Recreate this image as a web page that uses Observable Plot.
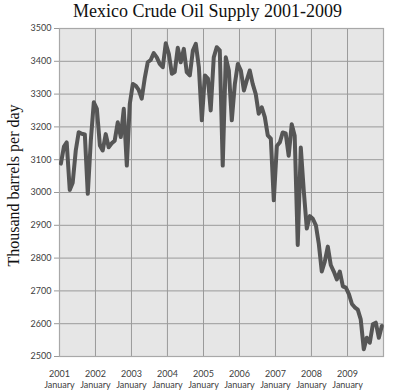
<!DOCTYPE html>
<html>
<head>
<meta charset="utf-8">
<script src="https://cdn.jsdelivr.net/npm/d3@7"></script>
<script src="https://cdn.jsdelivr.net/npm/@observablehq/plot@0.6"></script>
<style>
  html, body { margin: 0; padding: 0; background: #fff; }
  #chart { width: 400px; height: 390px; }
</style>
</head>
<body>
<div id="chart"></div>
<script>
const chartTitle = "Mexico Crude Oil Supply 2001-2009";
const yLabel = "Thousand barrels per day";
const firstYear = 2001;
const monthName = "January";
const tickYears = [2001, 2002, 2003, 2004, 2005, 2006, 2007, 2008, 2009];
const yTicks = [2500, 2600, 2700, 2800, 2900, 3000, 3100, 3200, 3300, 3400, 3500];
// monthly supply, Jan 2001 .. Dec 2009 (thousand barrels per day)
const supply = [
  3088, 3140, 3153, 3008, 3030, 3128, 3184, 3179, 3177, 2996, 3160, 3275,
  3255, 3143, 3128, 3178, 3138, 3150, 3158, 3214, 3169, 3255, 3082, 3270,
  3331, 3325, 3313, 3286, 3347, 3397, 3404, 3425, 3412, 3392, 3382, 3455,
  3423, 3362, 3367, 3441, 3397, 3438, 3367, 3357, 3433, 3453, 3382, 3220,
  3357, 3347, 3250, 3412, 3443, 3433, 3082, 3412, 3372, 3220, 3331, 3392,
  3372, 3311, 3341, 3372, 3331, 3300, 3240, 3260, 3230, 3174, 3164, 2976,
  3142, 3153, 3183, 3180, 3112, 3208, 3173, 2840, 3137, 3006, 2890, 2928,
  2920, 2900, 2845, 2759, 2789, 2835, 2779, 2759, 2735, 2759, 2714, 2710,
  2690, 2660, 2650, 2643, 2613, 2522, 2557, 2542, 2598, 2603, 2557, 2593
];

const data = supply.map((v, i) => ({date: new Date(Date.UTC(firstYear, i, 15)), value: v}));
const tickDates = tickYears.map(y => new Date(Date.UTC(y, 0, 1)));
const gridDates = tickYears.concat([tickYears[tickYears.length - 1] + 1]).map(y => new Date(Date.UTC(y, 0, 1)));

const chart = Plot.plot({
  width: 400,
  height: 390,
  marginTop: 28,
  marginBottom: 34,
  marginLeft: 59,
  marginRight: 17,
  style: {background: "#ffffff", fontFamily: "Lato, 'Open Sans', sans-serif", color: "#404040"},
  x: {type: "utc", domain: [new Date(Date.UTC(2001, 0, 1)), new Date(Date.UTC(2010, 0, 1))]},
  y: {domain: [2500, 3500]},
  marks: [
    Plot.frame({fill: "#e6e6e6", stroke: null}),
    Plot.gridX(gridDates, {stroke: "#9a9a9a", strokeOpacity: 1, strokeWidth: 1}),
    Plot.gridY(yTicks, {stroke: "#9a9a9a", strokeOpacity: 1, strokeWidth: 1}),
    Plot.frame({stroke: "#a8a8a8", strokeWidth: 1.2}),
    Plot.axisY({ticks: yTicks, tickSize: 5, tickPadding: 3, fontSize: 9, label: null, stroke: "#9a9a9a", fill: "#404040", tickFormat: d => String(d)}),
    Plot.axisX({ticks: tickDates, tickSize: 0, tickPadding: 12, fontSize: 9, lineHeight: 1.25, label: null, fill: "#404040",
      tickFormat: d => `${d.getUTCFullYear()}\n${monthName}`}),
    Plot.line(data, {x: "date", y: "value", stroke: "#565656", strokeWidth: 4, strokeLinejoin: "round", strokeLinecap: "round"}),
    Plot.text([chartTitle], {frameAnchor: "top", dx: -14, dy: -17, fontSize: 18, fontFamily: "'Liberation Serif', 'DejaVu Serif', serif", fill: "#111", lineAnchor: "middle"}),
    Plot.text([yLabel], {frameAnchor: "left", textAnchor: "middle", dx: -46, dy: -7, rotate: -90, fontSize: 16, fontFamily: "'Liberation Serif', 'DejaVu Serif', serif", fill: "#111", lineAnchor: "middle"})
  ]
});
document.getElementById("chart").appendChild(chart);
</script>
</body>
</html>
